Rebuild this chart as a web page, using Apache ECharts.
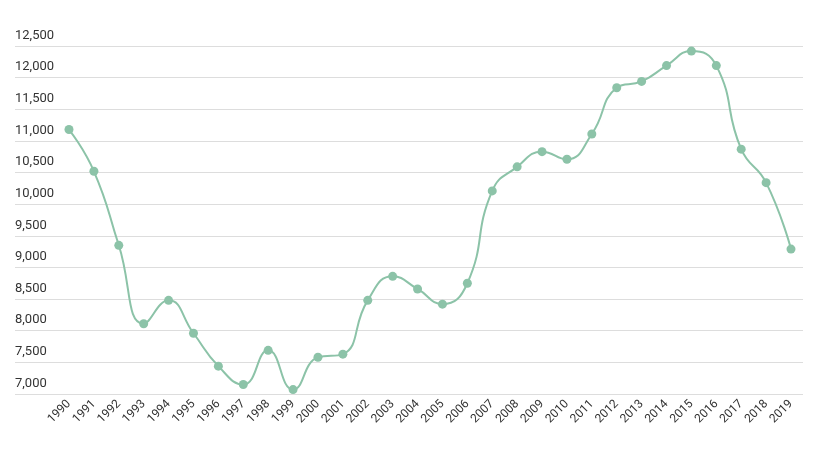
<!DOCTYPE html>
<html><head><meta charset="utf-8">
<script src="https://cdn.jsdelivr.net/npm/echarts@6/dist/echarts.min.js"></script>
<style>html,body{margin:0;padding:0;background:#fff}#c{width:821px;height:452px}</style>
</head><body><div id="c"></div>
<script>
var years = ['1990','1991','1992','1993','1994','1995','1996','1997','1998','1999','2000','2001','2002','2003','2004','2005','2006','2007','2008','2009','2010','2011','2012','2013','2014','2015','2016','2017','2018','2019'];
var values = [11180, 10520, 9350, 8110, 8480, 7960, 7440, 7150, 7690, 7070, 7580, 7630, 8480, 8860, 8660, 8420, 8750, 10210, 10590, 10830, 10710, 11110, 11840, 11940, 12190, 12420, 12190, 10870, 10340, 9290];

var chart = echarts.init(document.getElementById('c'));
var yBase = { min: 7000, max: 12500, interval: 500, type: 'value' };
chart.setOption({
    animation: false,
    grid: [
        { left: 15, right: 18, top: 46, bottom: 58 },
        { left: 69, right: 30, top: 46, bottom: 58 }
    ],
    xAxis: [
        { gridIndex: 0, type: 'value', show: false, min: 0, max: 1 },
        {
            gridIndex: 1, type: 'category', data: years, boundaryGap: false,
            axisLine: { show: false }, axisTick: { show: false },
            axisLabel: { rotate: 45, color: '#333', fontSize: 12, interval: 0, margin: 8, fontFamily: 'Roboto' }
        }
    ],
    yAxis: [
        Object.assign({ gridIndex: 0 }, yBase, {
            axisLine: { show: false }, axisTick: { show: false },
            splitLine: { lineStyle: { color: '#ddd' } },
            axisLabel: { inside: true, verticalAlign: 'bottom', margin: 0, padding: [0, 0, 4, 0], color: '#333', fontSize: 13, fontFamily: 'Roboto' }
        }),
        Object.assign({ gridIndex: 1 }, yBase, { show: false, splitLine: { show: false } })
    ],
    series: [{
        type: 'line', xAxisIndex: 1, yAxisIndex: 1, data: values, smooth: true,
        symbol: 'circle', symbolSize: 9,
        itemStyle: { color: '#8cc3a8' },
        lineStyle: { color: '#8cc3a8', width: 2 }
    }]
});
</script></body></html>
